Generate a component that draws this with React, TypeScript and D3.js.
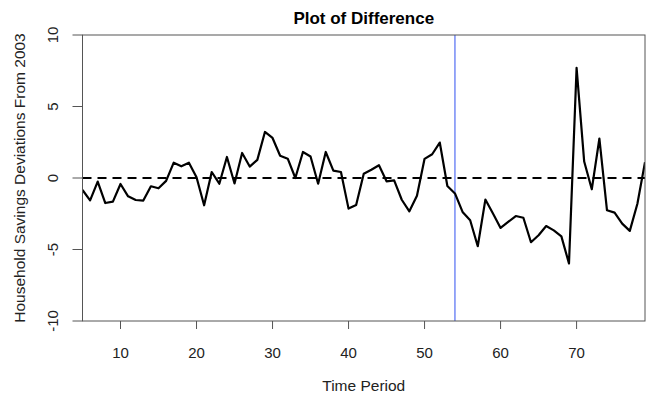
import React from "react";
import * as d3 from "d3";

const periods: number[] = d3.range(5, 80);
const diffValues: number[] = [
  -0.84, -1.56, -0.25, -1.75, -1.65, -0.42, -1.28, -1.54, -1.58, -0.58,
  -0.72, -0.2, 1.07, 0.82, 1.07, 0.05, -1.91, 0.42, -0.4, 1.47,
  -0.38, 1.75, 0.8, 1.27, 3.22, 2.8, 1.56, 1.35, 0.0, 1.82,
  1.5, -0.4, 1.82, 0.52, 0.42, -2.14, -1.89, 0.3, 0.58, 0.89,
  -0.23, -0.16, -1.52, -2.33, -1.24, 1.34, 1.66, 2.48, -0.56, -1.08,
  -2.37, -2.95, -4.77, -1.51, -2.48, -3.49, -3.07, -2.66, -2.78, -4.49,
  -4.0, -3.36, -3.66, -4.08, -5.98, 7.7, 1.15, -0.79, 2.76, -2.26,
  -2.42, -3.19, -3.7, -1.8, 1.1,
];
const xTicks: number[] = [10, 20, 30, 40, 50, 60, 70];
const yTicks: number[] = [-10, -5, 0, 5, 10];
const xDomain: [number, number] = [5, 79];
const yDomain: [number, number] = [-10, 10];
const breakPeriod = 54;
const titleText = "Plot of Difference";
const xLabel = "Time Period";
const yLabel = "Household Savings Deviations From 2003";

export default function App() {
  const W = 649, H = 397;
  const left = 82.5, right = 645, top = 35, bottom = 321;
  const x = d3.scaleLinear().domain(xDomain).range([left, right]);
  const y = d3.scaleLinear().domain(yDomain).range([bottom, top]);
  const data = periods.map((p, i) => [p, diffValues[i]] as [number, number]);
  const line = d3.line<[number, number]>().x(d => x(d[0])).y(d => y(d[1]));
  const font = "'Liberation Sans', Arial, Helvetica, sans-serif";
  const axisColor = "#555";
  return (
    <svg width={W} height={H} style={{ position: "absolute", left: 0, top: 0, background: "#fff" }} fontFamily={font}>
      <defs>
        <clipPath id="plotclip">
          <rect x={left} y={top} width={right - left} height={bottom - top} />
        </clipPath>
      </defs>
      <rect x={0} y={0} width={W} height={H} fill="#fff" />
      <text x={(left + right) / 2} y={24} textAnchor="middle" fontWeight="bold" fontSize={17} fill="#000">{titleText}</text>
      <g clipPath="url(#plotclip)">
        <line x1={left} x2={right} y1={y(0)} y2={y(0)} stroke="#000" strokeWidth={2} strokeDasharray="9,6" />
        <line x1={x(breakPeriod)} x2={x(breakPeriod)} y1={top} y2={bottom} stroke="#3050f0" strokeWidth={1} />
        <path d={line(data) || ""} fill="none" stroke="#000" strokeWidth={2.2} strokeLinejoin="round" />
      </g>
      <rect x={left} y={top} width={right - left} height={bottom - top} fill="none" stroke={axisColor} strokeWidth={1} />
      {xTicks.map(t => (
        <g key={"xt" + t}>
          <line x1={x(t)} x2={x(t)} y1={bottom} y2={bottom + 8} stroke={axisColor} strokeWidth={1} />
          <text x={x(t)} y={bottom + 37} textAnchor="middle" fontSize={15} fill="#222">{t}</text>
        </g>
      ))}
      {yTicks.map(t => (
        <g key={"yt" + t}>
          <line x1={left - 10} x2={left} y1={y(t)} y2={y(t)} stroke={axisColor} strokeWidth={1} />
          <text transform={`translate(${left - 25},${y(t)}) rotate(-90)`} textAnchor="middle" fontSize={15} fill="#222">{t}</text>
        </g>
      ))}
      <text x={(left + right) / 2} y={391} textAnchor="middle" fontSize={15.5} fill="#222">{xLabel}</text>
      <text transform={`translate(25,${(top + bottom) / 2}) rotate(-90)`} textAnchor="middle" fontSize={15.5} fill="#222">{yLabel}</text>
    </svg>
  );
}
